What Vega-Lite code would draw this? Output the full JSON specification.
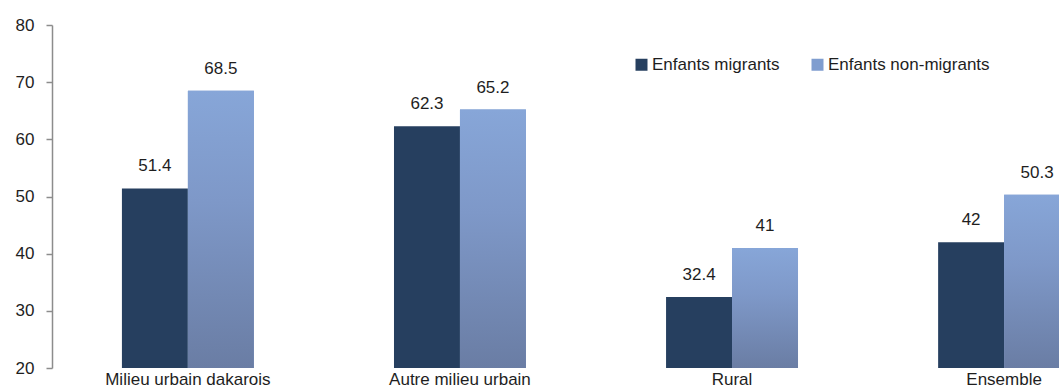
{
  "$schema": "https://vega.github.io/schema/vega-lite/v6.json",
  "autosize": {"type": "none"},
  "padding": {"left": 52, "top": 25, "right": 0, "bottom": 22},
  "width": 1007,
  "height": 343,
  "background": "white",
  "config": {
    "view": {"stroke": null},
    "font": "Liberation Sans",
    "text": {"font": "Liberation Sans"}
  },
  "data": {
    "values": [
      {"milieu": "Milieu urbain dakarois", "groupe": "Enfants migrants", "valeur": 51.4},
      {"milieu": "Milieu urbain dakarois", "groupe": "Enfants non-migrants", "valeur": 68.5},
      {"milieu": "Autre milieu urbain", "groupe": "Enfants migrants", "valeur": 62.3},
      {"milieu": "Autre milieu urbain", "groupe": "Enfants non-migrants", "valeur": 65.2},
      {"milieu": "Rural", "groupe": "Enfants migrants", "valeur": 32.4},
      {"milieu": "Rural", "groupe": "Enfants non-migrants", "valeur": 41},
      {"milieu": "Ensemble", "groupe": "Enfants migrants", "valeur": 42},
      {"milieu": "Ensemble", "groupe": "Enfants non-migrants", "valeur": 50.3}
    ]
  },
  "encoding": {
    "x": {
      "field": "milieu",
      "type": "nominal",
      "sort": null,
      "scale": {"range": [0, 1088], "paddingInner": 0.515, "paddingOuter": 0.257},
      "axis": {
        "title": null,
        "domain": false,
        "ticks": false,
        "labelAngle": 0,
        "labelFont": "Liberation Sans",
        "labelFontSize": 17,
        "labelColor": "#1e1e1e",
        "labelPadding": 3,
        "labelLimit": 400
      }
    },
    "xOffset": {
      "field": "groupe",
      "type": "nominal",
      "scale": {"domain": ["Enfants migrants", "Enfants non-migrants"], "paddingInner": 0, "paddingOuter": 0}
    },
    "y": {
      "field": "valeur",
      "type": "quantitative",
      "scale": {"domain": [20, 80], "nice": false, "zero": false},
      "axis": {
        "title": null,
        "grid": false,
        "values": [20, 30, 40, 50, 60, 70, 80],
        "domainColor": "#8c8c8c",
        "domainWidth": 1.5,
        "tickColor": "#8c8c8c",
        "tickWidth": 1.5,
        "tickSize": 6,
        "labelPadding": 12,
        "labelFont": "Liberation Sans",
        "labelFontSize": 17,
        "labelColor": "#1e1e1e"
      }
    }
  },
  "layer": [
    {
      "mark": {"type": "bar"},
      "encoding": {
        "y2": {"datum": 20},
        "color": {
          "field": "groupe",
          "type": "nominal",
          "scale": {"domain": ["Enfants migrants", "Enfants non-migrants"], "range": ["#263f5f", "#7f9dcf"]},
          "legend": {
            "title": null,
            "orient": "none",
            "legendX": 581,
            "legendY": 31,
            "direction": "horizontal",
            "symbolType": "square",
            "symbolSize": 144,
            "symbolStrokeWidth": 0,
            "labelFont": "Liberation Sans",
            "labelFontSize": 17,
            "labelColor": "#1e1e1e",
            "labelOffset": 2,
            "labelLimit": 400,
            "columnPadding": 29,
            "padding": 0
          }
        }
      }
    },
    {
      "transform": [{"filter": "datum.groupe === 'Enfants non-migrants'"}],
      "mark": {
        "type": "bar",
        "color": {
          "gradient": "linear",
          "x1": 0, "y1": 0, "x2": 0, "y2": 1,
          "stops": [
            {"offset": 0, "color": "#87a6d8"},
            {"offset": 0.4, "color": "#7e98c8"},
            {"offset": 1, "color": "#6a7da4"}
          ]
        }
      },
      "encoding": {"y2": {"datum": 20}}
    },
    {
      "mark": {"type": "text", "baseline": "alphabetic", "dy": -17, "font": "Liberation Sans", "fontSize": 17, "color": "#1e1e1e"},
      "encoding": {"text": {"field": "valeur", "type": "quantitative"}}
    }
  ]
}
